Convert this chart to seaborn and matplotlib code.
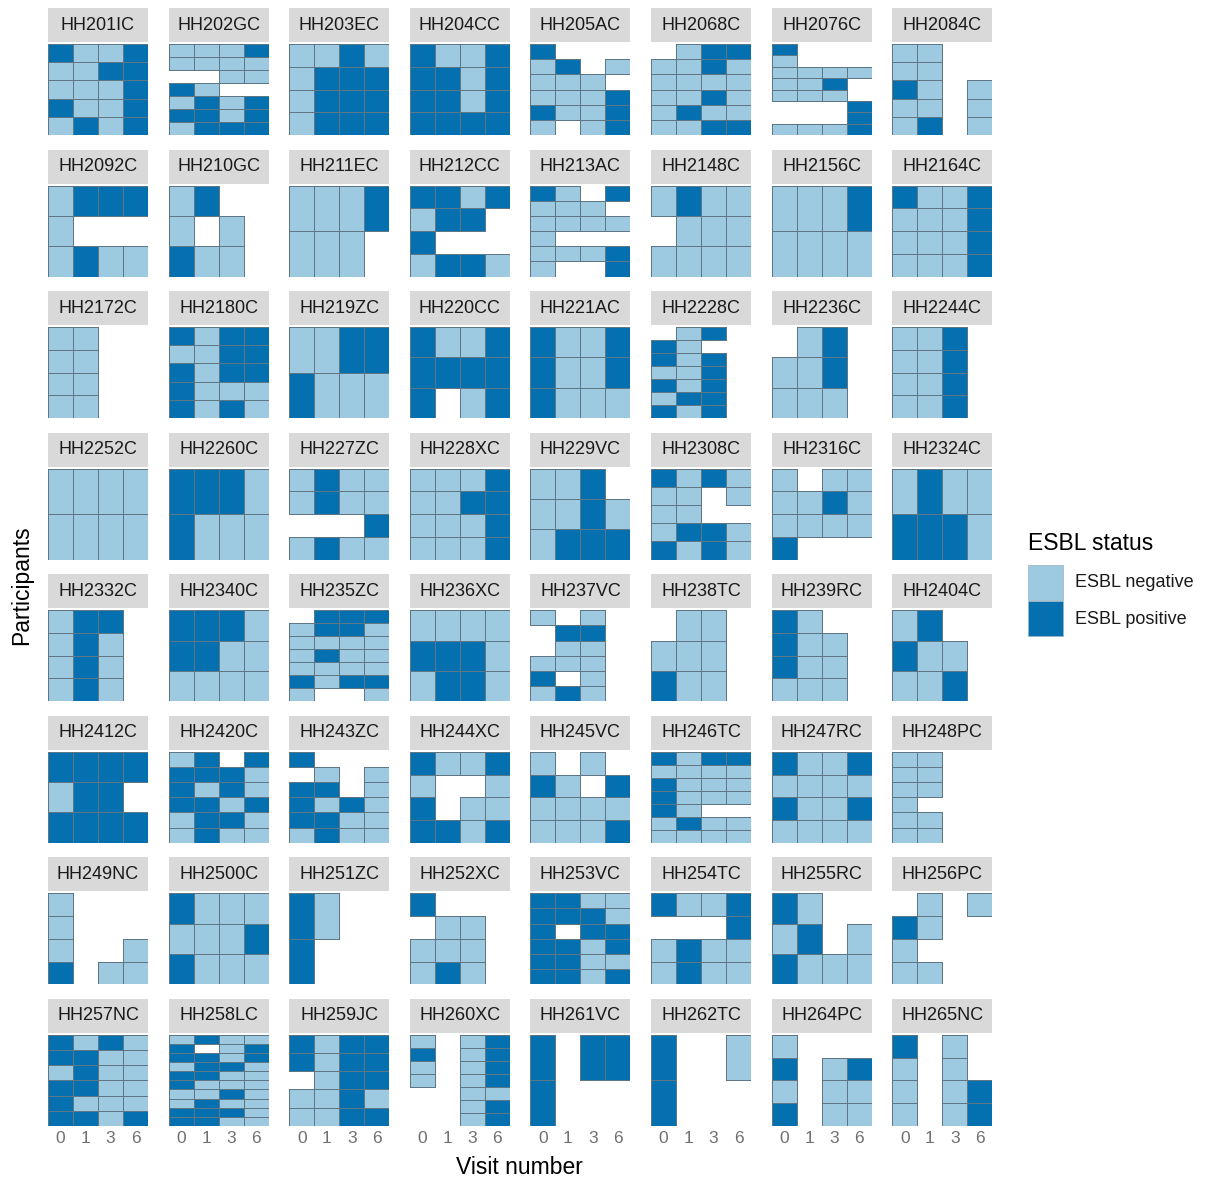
import numpy as np
import pandas as pd
import matplotlib
matplotlib.use("Agg")
import matplotlib.pyplot as plt
import seaborn as sns
from matplotlib.colors import ListedColormap, to_rgba
from matplotlib.patches import Rectangle

# one entry per household, rows = participants, chars = visits 0/1/3/6
# P = ESBL positive, N = ESBL negative, . = no sample
households = [
    "HH201IC", "HH202GC", "HH203EC", "HH204CC", "HH205AC", "HH2068C", "HH2076C", "HH2084C",
    "HH2092C", "HH210GC", "HH211EC", "HH212CC", "HH213AC", "HH2148C", "HH2156C", "HH2164C",
    "HH2172C", "HH2180C", "HH219ZC", "HH220CC", "HH221AC", "HH2228C", "HH2236C", "HH2244C",
    "HH2252C", "HH2260C", "HH227ZC", "HH228XC", "HH229VC", "HH2308C", "HH2316C", "HH2324C",
    "HH2332C", "HH2340C", "HH235ZC", "HH236XC", "HH237VC", "HH238TC", "HH239RC", "HH2404C",
    "HH2412C", "HH2420C", "HH243ZC", "HH244XC", "HH245VC", "HH246TC", "HH247RC", "HH248PC",
    "HH249NC", "HH2500C", "HH251ZC", "HH252XC", "HH253VC", "HH254TC", "HH255RC", "HH256PC",
    "HH257NC", "HH258LC", "HH259JC", "HH260XC", "HH261VC", "HH262TC", "HH264PC", "HH265NC",
]

status_rows = [
    "PNNP NNPP NNNP PNNP NPNP",
    "NNNP NNNN ..NN PN.. NPNP PPNP NPPP",
    "NNPN NPPP NPPP NPPP",
    "PNNP PPNP PPNP PPPP",
    "P... NP.N NNN. NNNP PNNP N.NP",
    ".NPP NNPN NNNN NNPN NPNN NNPP",
    "P... N... NNNN NNP. NNN. ...P ...P NNNP",
    "NN.. NN.. PN.N NN.N NP.N",
    "NPPP N... NPNN",
    "NP.. N.N. PNN.",
    "NNNP NNN.",
    "PPNP NPP. P... NPPN",
    "PN.P NNN. NNNN N... NNNP N..P",
    "NPNN .NNN NNNN",
    "NNNP NNNN",
    "PNNP NNNP NNNP NNNP",
    "NN.. NN.. NN.. NN..",
    "PNPP NNPP PNPP PNNN PNPN",
    "NNPP PNNN",
    "PNNP PPPP P.NP",
    "PNNP PNNP PNNN",
    ".NP. PN.. PNP. NNP. PNP. NPP. PNP.",
    ".NP. NNP. NNN.",
    "NNP. NNP. NNP. NNP.",
    "NNNN NNNN",
    "PPPN PNNN",
    "NPNN NPNN ...P NPNN",
    "NNNP NNPP NNNP NNNP",
    "NNP. NNPN NPPP",
    "PNPN NN.N NN.. NPPN PNPN",
    "N.NN NNPN NNNN P...",
    "NPNN PPPN",
    "NPP. NPN. NPN. NPN.",
    "PPPN PPNN NNNN",
    ".PPP NPPN NNNN NPNN NNNN PNPP N..N",
    "NNNN PPPN NPPN",
    "N.N. .PP. .NN. NNN. P.N. NPN.",
    ".NN. NNN. PNN.",
    "PN.. PNN. PNN. NNN.",
    "NP.. PNN. NNP.",
    "PPPP NPP. PPPP",
    "NP.P PPPN PNPN PPNP NPPN NPNN",
    "P... .N.N PP.N PNPN PPNN NPNN",
    "PNNP N..N P.NN PPNP",
    "N.N. PN.P NNNN NNNP",
    "PNPP NNNN PNNN PNNN PN.. NPNN NNNN",
    "PNNP NNNN PNNP NNNN",
    "NN.. NN.. NN.. N... NN.. NN..",
    "N... N... N..N P.NN",
    "PNNN NNNP PNNN",
    "PN.. P...",
    "P... .NN. NNN. NPN.",
    "PPNN PPPN P.PP PPNP PPNN PPNP",
    "PNNP ...P NPNN NPNN",
    "PN.. NP.N PNNN",
    ".N.N PN.. N... NN..",
    "PNPN PPNN NPNN PPNN PNNN PPNP",
    "NPNN P.NP PPNP NPPN PPNN PNNN NNPN NPNN PPPN PPNN",
    "PNPP PNPP .NPP NNPN NNPP",
    "N.NP P.NP N.NP N.NP ..NN ..NP ..NP",
    "P.PP P...",
    "P..N P...",
    "N... P.NP N.NN P.NN",
    "P.N. N.N. N.NP N.NP",
]

visits = ["0", "1", "3", "6"]
status_labels = ["ESBL negative", "ESBL positive"]
status_colors = ["#9ecae1", "#0570b0"]

records = []
for hh, rows in zip(households, status_rows):
    for p, row in enumerate(rows.split()):
        for v, s in zip(visits, row):
            if s == ".":
                continue
            records.append({"household": hh, "participant": p,
                            "visit": v, "esbl": 1 if s == "P" else 0})
df = pd.DataFrame(records)

sns.set_style("white")
plt.rcParams["font.family"] = ["Liberation Sans", "DejaVu Sans"]

W, H = 1205, 1180
fig = plt.figure(figsize=(W / 100, H / 100), dpi=100)


def fig_box(x, y, w, h):
    return [x / W, 1 - (y + h) / H, w / W, h / H]


cmap = ListedColormap(status_colors)
line_col = to_rgba("#5f7784")
pw, ph = 100, 91

for i, hh in enumerate(households):
    r, c = divmod(i, 8)
    left = 48 + c * 120.6
    top = 44 + r * 141.55
    ax = fig.add_axes(fig_box(left, top, pw, ph))

    sub = df[df.household == hh]
    n = sub.participant.max() + 1
    mat = (sub.pivot(index="participant", columns="visit", values="esbl")
              .reindex(index=range(n), columns=visits))

    sns.heatmap(mat, ax=ax, cmap=cmap, vmin=0, vmax=1, cbar=False,
                linewidths=0.7, linecolor="#5f7784",
                xticklabels=visits if r == 7 else False, yticklabels=False)
    # no outline on missing samples
    mesh = ax.collections[0]
    ok = ~np.isnan(mat.values.astype(float)).ravel()
    mesh.set_edgecolors([line_col if k else (0, 0, 0, 0) for k in ok])

    ax.set_xlabel("")
    ax.set_ylabel("")
    for s in ax.spines.values():
        s.set_visible(False)
    ax.tick_params(length=0, labelsize=12.5, colors="#707070", pad=4)
    if r == 7:
        ax.set_xticklabels(visits, rotation=0)

    # strip label
    fig.add_artist(Rectangle((left / W, 1 - (top - 2) / H), pw / W, 34 / H,
                             transform=fig.transFigure, facecolor="#d9d9d9",
                             edgecolor="none"))
    fig.text((left + pw / 2) / W, 1 - (top - 19) / H, hh, ha="center",
             va="center", fontsize=13, color="#1a1a1a")

fig.text(519.5 / W, 1 - 1168 / H, "Visit number", ha="center", va="center",
         fontsize=16.5, color="black")
fig.text(22 / W, 1 - 585 / H, "Participants", ha="center", va="center",
         rotation=90, fontsize=16.5, color="black")

# legend
fig.text(1028 / W, 1 - 543 / H, "ESBL status", ha="left", va="center",
         fontsize=16.5, color="black")
for k, (lab, col) in enumerate(zip(status_labels, status_colors)):
    ytop = 565 + k * 36
    fig.add_artist(Rectangle((1028 / W, 1 - (ytop + 35) / H), 35 / W, 35 / H,
                             transform=fig.transFigure, facecolor=col,
                             edgecolor="#9ab3c0", linewidth=0.5))
    fig.text(1075 / W, 1 - (ytop + 18) / H, lab, ha="left", va="center",
             fontsize=13, color="#1a1a1a")

fig.savefig("out.png", dpi=100)
